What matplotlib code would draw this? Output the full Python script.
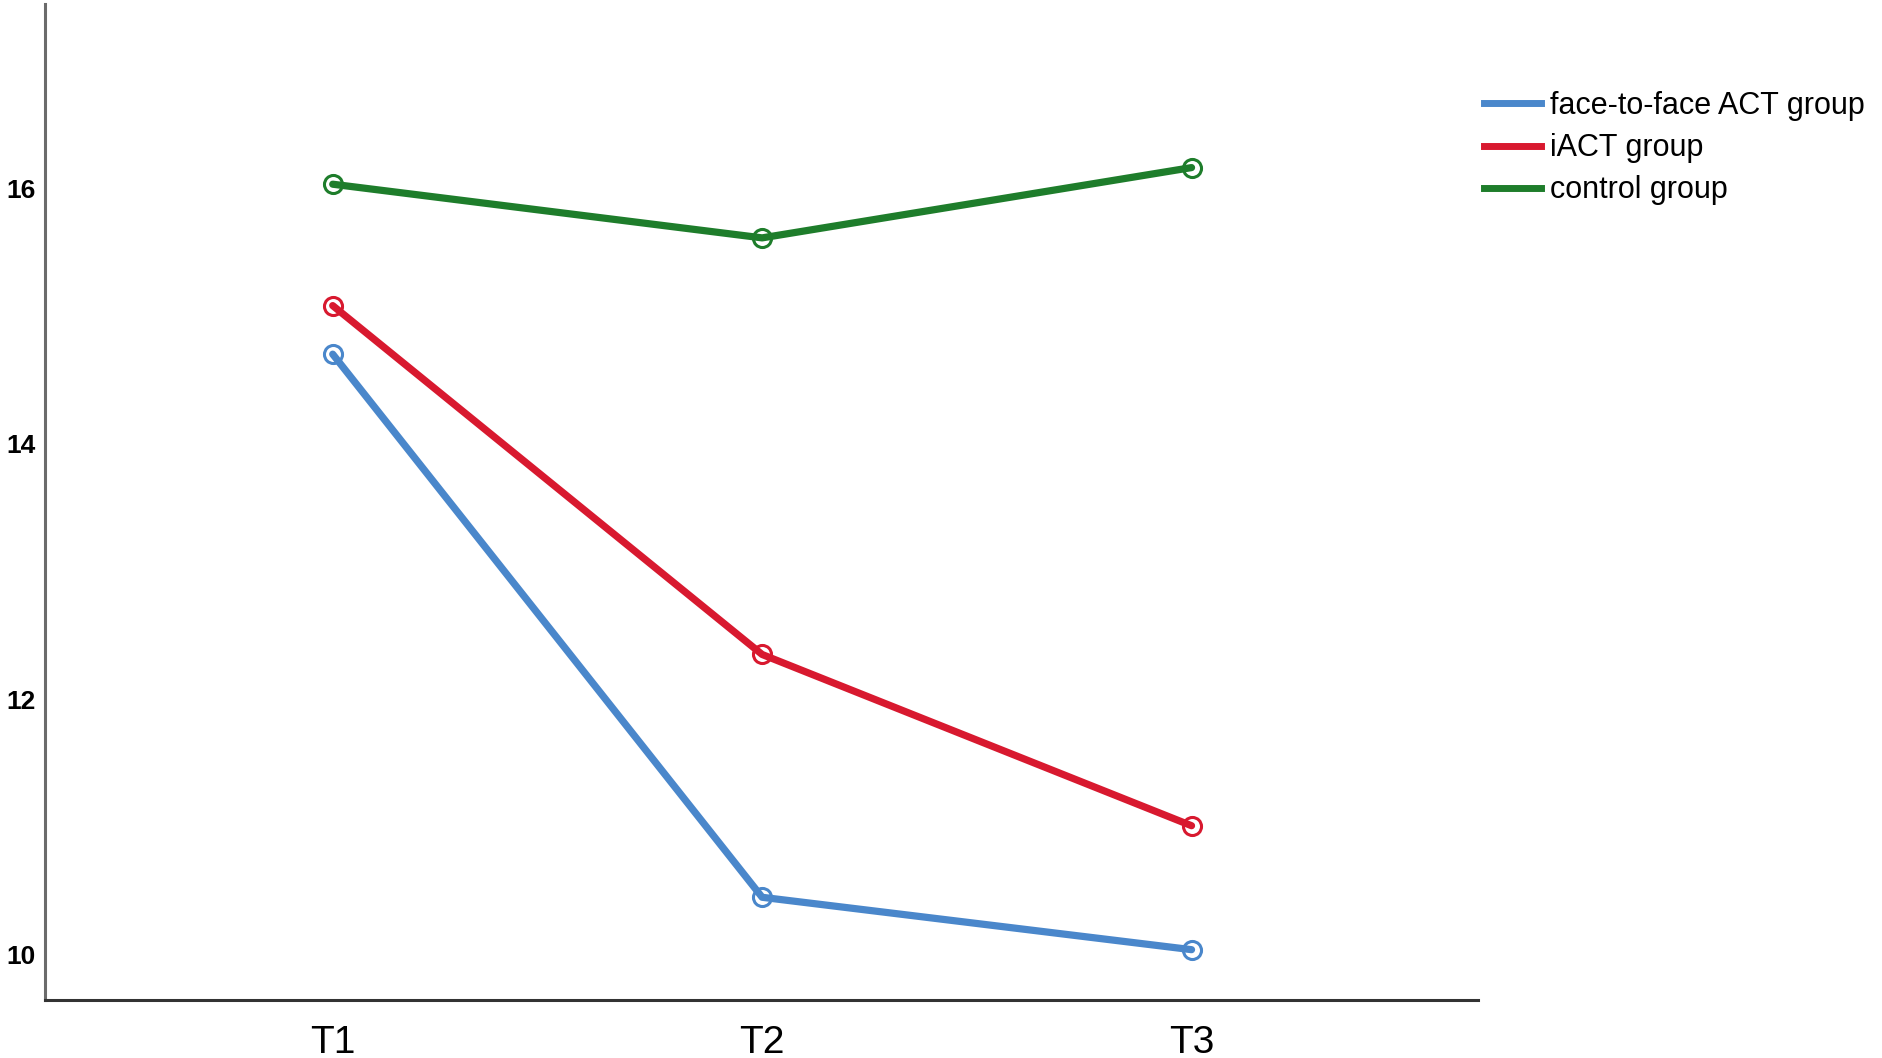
import matplotlib
matplotlib.use("Agg")
import matplotlib.pyplot as plt
from matplotlib.lines import Line2D

times = ["T1", "T2", "T3"]
series_names = ["face-to-face ACT group", "iACT group", "control group"]
face_to_face = [14.70, 10.45, 10.04]
iact = [15.08, 12.35, 11.01]
control = [16.03, 15.61, 16.16]
yticks = [10, 12, 14, 16]

colors = ["#4A87CB", "#D8192F", "#1E7D2B"]

fig = plt.figure(figsize=(18.83, 10.58), dpi=100)
ax = fig.add_axes([0.0239, 0.0548, 0.7610, 0.9414])

x = list(range(len(times)))
for vals, c, name in zip([face_to_face, iact, control], colors, series_names):
    ax.plot(x, vals, color=c, lw=5.2, solid_capstyle="round", zorder=2)
    ax.plot(x, vals, linestyle="none", marker="o", markersize=13, mfc="none",
            mec=c, mew=2.2, zorder=3)

ax.set_xlim(-0.67, 2.667)
ax.set_ylim(9.646, 17.44)
ax.set_xticks(x)
ax.set_xticklabels(times, fontsize=28, family=["Liberation Sans Narrow", "Liberation Sans", "DejaVu Sans"])
ax.set_yticks(yticks)
ax.set_yticklabels([str(t) for t in yticks], fontsize=19, fontweight="bold",
                   family=["Liberation Sans", "DejaVu Sans"])
ax.tick_params(axis="both", length=0)
ax.tick_params(axis="x", pad=18)
ax.tick_params(axis="y", pad=7)
for s in ["top", "right"]:
    ax.spines[s].set_visible(False)
ax.spines["left"].set_color("#6b6b6b")
ax.spines["left"].set_linewidth(2.2)
ax.spines["bottom"].set_color("#333333")
ax.spines["bottom"].set_linewidth(2.2)

handles = [Line2D([0], [0], color=c, lw=5) for c in colors]
leg = fig.legend(handles, series_names, loc="upper left", bbox_to_anchor=(0.7735, 0.94),
                 frameon=False, handlelength=1.85, handletextpad=0.3,
                 labelspacing=0.4, prop={"family": ["Liberation Sans", "DejaVu Sans"], "size": 22})

fig.savefig("out.png", dpi=100)
